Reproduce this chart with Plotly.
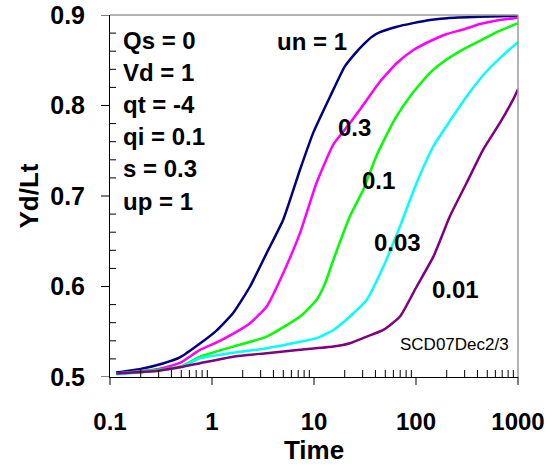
import math
import plotly.graph_objects as go

# ---- data ----
t_un1 = [0.115, 0.2, 0.33, 0.49, 0.762, 1.1, 1.62, 2.36, 3.44, 5.0, 7.29, 9.84, 14.4, 20.0, 26.0, 30.3, 37.0, 44.4, 64.9, 93.5, 137.0, 201.0, 424.0, 1000.0]
y_un1 = [0.505, 0.509, 0.515, 0.522, 0.537, 0.551, 0.571, 0.600, 0.637, 0.674, 0.729, 0.770, 0.810, 0.843, 0.859, 0.867, 0.876, 0.881, 0.887, 0.891, 0.8945, 0.8965, 0.898, 0.899]

t_un03 = [0.115, 0.3, 0.485, 0.762, 1.1, 1.62, 2.36, 3.44, 5.0, 7.29, 10.6, 15.5, 21.3, 26.0, 32.9, 44.0, 65.0, 93.5, 137.0, 201.0, 291.0, 424.0, 618.0, 1000.0]
y_un03 = [0.504, 0.509, 0.5155, 0.530, 0.538, 0.548, 0.5595, 0.578, 0.615, 0.659, 0.7146, 0.757, 0.777, 0.790, 0.806, 0.826, 0.847, 0.861, 0.871, 0.879, 0.884, 0.890, 0.894, 0.897]

t_un01 = [0.115, 0.3, 0.5, 0.762, 1.62, 3.44, 7.29, 10.6, 12.8, 15.5, 22.5, 30.4, 41.2, 62.0, 90.0, 137.0, 201.0, 291.0, 424.0, 618.0, 1000.0]
y_un01 = [0.504, 0.508, 0.512, 0.5225, 0.5336, 0.5447, 0.5668, 0.5853, 0.603, 0.6296, 0.6776, 0.707, 0.745, 0.785, 0.812, 0.836, 0.851, 0.862, 0.8715, 0.881, 0.891]

t_un003 = [0.115, 0.3, 0.5, 0.762, 3.44, 7.29, 10.6, 15.5, 22.5, 32.9, 47.9, 69.7, 101.6, 148.0, 215.0, 300.0, 485.0, 770.0, 1000.0]
y_un003 = [0.503, 0.507, 0.511, 0.5207, 0.5318, 0.539, 0.543, 0.552, 0.5668, 0.5853, 0.622, 0.6665, 0.7146, 0.755, 0.783, 0.807, 0.837, 0.859, 0.870]

t_un001 = [0.115, 0.3, 0.5, 0.762, 1.62, 3.44, 7.29, 15.5, 22.5, 32.9, 47.9, 69.7, 101.6, 148.0, 215.0, 314.0, 457.0, 667.0, 900.0, 1000.0]
y_un001 = [0.504, 0.507, 0.511, 0.5152, 0.5225, 0.5263, 0.530, 0.5336, 0.5373, 0.5447, 0.552, 0.5668, 0.600, 0.633, 0.6776, 0.7146, 0.7515, 0.781, 0.807, 0.818]

series_names = ["un = 1", "0.3", "0.1", "0.03", "0.01"]
series_t = [t_un1, t_un03, t_un01, t_un003, t_un001]
series_y = [y_un1, y_un03, y_un01, y_un003, y_un001]
series_colors = ["#000080", "#FF00FF", "#00FF00", "#00FFFF", "#800080"]

y_major = [0.5, 0.6, 0.7, 0.8, 0.9]
x_decades = [-1, 0, 1, 2, 3]       # log10 of the labelled times 0.1 ... 1000
x_range_log = [-1, 3]
y_range = [0.5, 0.9]

param_lines = ["Qs = 0", "Vd = 1", "qt = -4", "qi = 0.1", "s = 0.3", "up = 1"]

FONT = "Liberation Sans, Arial, sans-serif"

fig = go.Figure()
for name, t, y, c in zip(series_names, series_t, series_y, series_colors):
    fig.add_trace(go.Scatter(x=t, y=y, mode="lines", name=name,
                             line=dict(color=c, width=2.5, shape="spline", smoothing=0.5),
                             showlegend=False, hoverinfo="skip"))

# the page's body margin is removed below, so the figure fills the window exactly
W, H = 550, 466
L, R, T, B = 110, 32, 15, 89
pw, ph = W - L - R, H - T - B

def px(x):  # window pixel -> paper fraction
    return (x - L) / pw

def py(y):
    return (H - B - y) / ph

bold = dict(family=FONT, size=24, color="black", weight="bold")

ann = []
for i, s in enumerate(param_lines):
    ann.append(dict(x=px(121), y=py(40 + i * 32.2), xref="paper", yref="paper", text=s,
                    showarrow=False, xanchor="left", yanchor="middle", font=bold))

label_pos = [(312, 42), (354, 127), (378, 180), (397, 243), (455, 289)]
for (lx, ly), s in zip(label_pos, series_names):
    ann.append(dict(x=px(lx), y=py(ly), xref="paper", yref="paper", text=s,
                    showarrow=False, xanchor="center", yanchor="middle", font=bold))

ann.append(dict(x=px(511), y=py(344), xref="paper", yref="paper", text="SCD07Dec2/3",
                showarrow=False, xanchor="right", yanchor="middle",
                font=dict(family=FONT, size=17, color="black")))

# axis decorations: frame + tick marks
tick_line = dict(color="black", width=1)
shapes = [
    dict(type="line", xref="paper", yref="paper", x0=0, x1=1, y0=1, y1=1,
         line=dict(color="#999999", width=1.5)),
    dict(type="line", xref="paper", yref="paper", x0=1, x1=1, y0=0, y1=1,
         line=dict(color="#999999", width=1.5)),
]
for v in y_major:
    shapes.append(dict(type="line", xref="paper", yref="y", x0=-9 / pw, x1=0,
                       y0=v, y1=v, line=tick_line))
for k in range(1, 20):
    if k % 5 == 0:
        continue
    v = y_range[0] + 0.02 * k
    shapes.append(dict(type="line", xref="paper", yref="y", x0=0, x1=6 / pw,
                       y0=v, y1=v, line=tick_line))
span = x_range_log[1] - x_range_log[0]
for d in x_decades:
    f = (d - x_range_log[0]) / span
    shapes.append(dict(type="line", xref="paper", yref="paper", x0=f, x1=f,
                       y0=-8 / ph, y1=0, line=tick_line))
    if d == x_range_log[1]:
        continue
    for m in range(2, 10):
        f = (d + math.log10(m) - x_range_log[0]) / span
        shapes.append(dict(type="line", xref="paper", yref="paper", x0=f, x1=f,
                           y0=0, y1=7 / ph, line=tick_line))

fig.update_layout(
    width=W, height=H,
    margin=dict(l=L, r=R, t=T, b=B, pad=0, autoexpand=False),
    paper_bgcolor="white", plot_bgcolor="white",
    font=dict(family=FONT, color="black"),
    annotations=ann,
    shapes=shapes,
    xaxis=dict(
        type="log", range=x_range_log, automargin=False,
        tickmode="linear", tick0=0, dtick=1, exponentformat="none",
        ticks="outside", ticklen=23, tickwidth=1, tickcolor="rgba(0,0,0,0)",
        ticklabeloverflow="allow",
        showline=True, linecolor="black", linewidth=1,
        showgrid=False, zeroline=False,
        tickfont=dict(family=FONT, size=24, color="black", weight="bold"),
        title=dict(text="Time", standoff=3,
                   font=dict(family=FONT, size=26, color="black", weight="bold")),
    ),
    yaxis=dict(
        range=y_range, automargin=False,
        tickmode="linear", tick0=0.5, dtick=0.1, tickformat=".1f",
        ticks="outside", ticklen=19, tickwidth=1, tickcolor="rgba(0,0,0,0)",
        ticklabeloverflow="allow",
        showline=True, linecolor="black", linewidth=1,
        showgrid=False, zeroline=False,
        tickfont=dict(family=FONT, size=25, color="black", weight="bold"),
        title=dict(text="Yd/Lt", standoff=4,
                   font=dict(family=FONT, size=26, color="black", weight="bold")),
    ),
)

fig.write_html("out.html",
               config={"displayModeBar": False, "staticPlot": True},
               post_script="document.body.style.margin='0';document.body.style.overflow='hidden';")
